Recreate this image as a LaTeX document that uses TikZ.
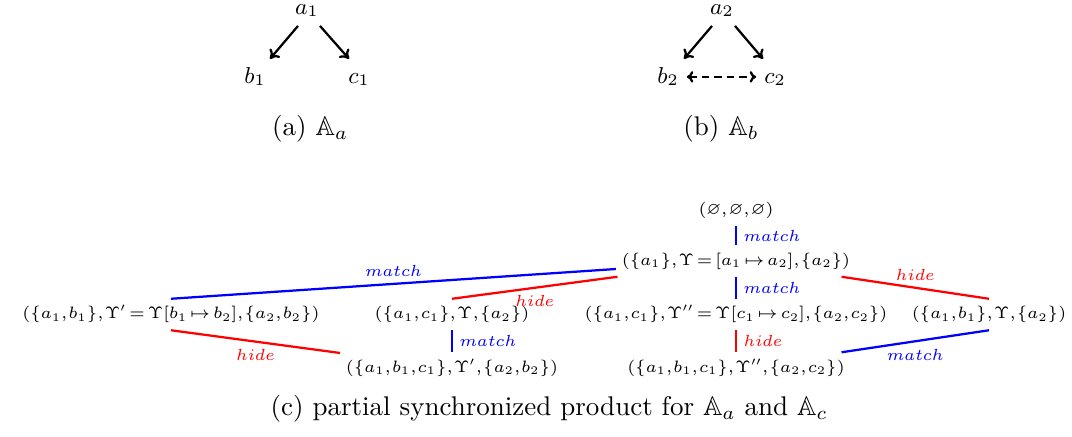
\documentclass[tikz,border=0pt]{standalone}
\usepackage{fix-cm}
\usepackage{amssymb}
\usetikzlibrary{arrows.meta}
\newcommand{\tightmu}{\thickmuskip=2.5mu\relax\medmuskip=2mu\relax\thinmuskip=1mu\relax}
\begin{document}
\begin{tikzpicture}[x=0.4pt,y=-0.4pt,
  lab/.style={font=\fontsize{9.2}{11}\selectfont, inner sep=3.07pt, text height=6.4pt, text depth=1.5pt, anchor=base},
  arr/.style={-{To[length=3.4pt,width=5.4pt]}, line width=0.9pt},
  captxt/.style={font=\fontsize{10.8}{13}\selectfont, anchor=base},
  st/.style={font=\fontsize{6.6}{8}\selectfont\tightmu, inner xsep=2.2pt, inner ysep=2.8pt, text height=4.95pt, text depth=1.65pt},
  mt/.style={blue, line width=0.9pt},
  hd/.style={red, line width=0.9pt},
  el/.style={font=\fontsize{9.2}{11}\selectfont, inner sep=2.6pt},
]
\useasboundingbox (0,0) rectangle (1072,436);
% (a)
\node[lab] (a1) at (307,14) {$a_1$};
\node[lab] (b1) at (255,83) {$b_1$};
\node[lab] (c1) at (359,83) {$c_1$};
\draw[arr] ([xshift=-3.6pt]a1.south) -- ([xshift=6pt]b1.north);
\draw[arr] ([xshift=5.2pt]a1.south) -- ([xshift=-4pt]c1.north);
\node[captxt] (capa) at (310,135) {(a) $\mathbb{A}_a$};
% (b)
\node[lab] (a2) at (722,14) {$a_2$};
\node[lab] (b2) at (668,83) {$b_2$};
\node[lab] (c2) at (775,83) {$c_2$};
\draw[arr] ([xshift=-4pt]a2.south) -- ([xshift=6.4pt]b2.north);
\draw[arr] ([xshift=5.2pt]a2.south) -- ([xshift=-4.8pt]c2.north);
\draw[line width=0.9pt, {To[length=2.6pt,width=4.6pt]}-{To[length=2.6pt,width=4.6pt]}, dash pattern=on 3pt off 2pt] (b2) -- (c2);
\node[captxt] (capb) at (721,135) {(b) $\mathbb{A}_b$};
% (c)
\node[st] (t)  at (736,210) {$(\varnothing,\varnothing,\varnothing)$};
\node[st] (n1) at (736,261) {$(\{a_1\},\Upsilon=[a_1\mapsto a_2],\{a_2\})$};
\node[st] (n2) at (171,314.5) {$(\{a_1,b_1\},\Upsilon'=\Upsilon[b_1\mapsto b_2],\{a_2,b_2\})$};
\node[st] (n3) at (452,314.5) {$(\{a_1,c_1\},\Upsilon,\{a_2\})$};
\node[st] (n4) at (736,314.5) {$(\{a_1,c_1\},\Upsilon''=\Upsilon[c_1\mapsto c_2],\{a_2,c_2\})$};
\node[st] (n5) at (989,314.5) {$(\{a_1,b_1\},\Upsilon,\{a_2\})$};
\node[st] (n6) at (452,368) {$(\{a_1,b_1,c_1\},\Upsilon',\{a_2,b_2\})$};
\node[st] (n7) at (736,368) {$(\{a_1,b_1,c_1\},\Upsilon'',\{a_2,c_2\})$};
\draw[mt] (t) -- node[el, right, blue] {$\scriptstyle match$} (n1);
\draw[mt] (n2.north) -- node[el, above, blue] {$\scriptstyle match$} (n1);
\draw[hd] (n3.north) -- node[el, below, red] {$\scriptstyle hide$} (n1);
\draw[hd] (n5.north) -- node[el, above, red] {$\scriptstyle hide$} (n1);
\draw[mt] (n1) -- node[el, right, blue] {$\scriptstyle match$} (n4);
\draw[hd] (n4) -- node[el, right, red] {$\scriptstyle hide$} (n7);
\draw[mt] (n3) -- node[el, right, blue] {$\scriptstyle match$} (n6);
\draw[hd] (n2.south) -- node[el, below, red] {$\scriptstyle hide$} (n6);
\draw[mt] (n5.south) -- node[el, below, blue] {$\scriptstyle match$} (n7);
\node[captxt] (capc) at (549,415) {(c) partial synchronized product for $\mathbb{A}_a$ and $\mathbb{A}_c$};
\end{tikzpicture}
\end{document}
